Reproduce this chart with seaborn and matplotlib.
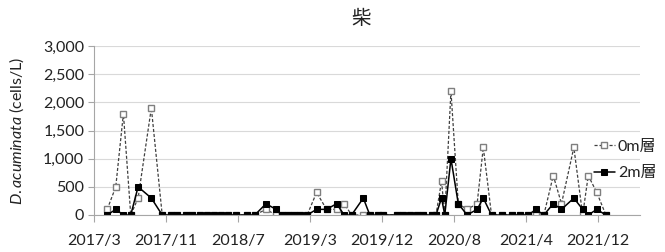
import pandas as pd
import matplotlib
matplotlib.use("Agg")
import matplotlib.pyplot as plt
import matplotlib.ticker as mticker
import seaborn as sns

# sampling dates and cell counts
dates = [
    "2017-04-15", "2017-05-14", "2017-06-09", "2017-07-04", "2017-07-29",
    "2017-09-12", "2017-10-19", "2017-11-19", "2017-12-09", "2018-01-07",
    "2018-01-29", "2018-02-24", "2018-03-20", "2018-04-13", "2018-05-07",
    "2018-05-31", "2018-06-27", "2018-08-05", "2018-08-30", "2018-10-07",
    "2018-11-10", "2018-11-29", "2018-12-20", "2019-01-10", "2019-01-30",
    "2019-02-24", "2019-03-28", "2019-05-01", "2019-06-04", "2019-06-30",
    "2019-07-25", "2019-09-03", "2019-09-25", "2019-10-24", "2019-11-10",
    "2019-12-25", "2020-01-17", "2020-02-08", "2020-03-02", "2020-03-25",
    "2020-04-22", "2020-05-07", "2020-05-26", "2020-06-06", "2020-06-27",
    "2020-07-22", "2020-08-21", "2020-09-24", "2020-10-15", "2020-11-12",
    "2020-12-16", "2021-01-19", "2021-02-16", "2021-03-17", "2021-04-12",
    "2021-05-09", "2021-06-10", "2021-07-08", "2021-08-19", "2021-09-18",
    "2021-10-07", "2021-11-05", "2021-12-06",
]
layer_0m = [
    100, 500, 1800, 0, 300,
    1900, 0, 0, 0, 0,
    0, 0, 0, 0, 0,
    0, 0, 0, 0, 100,
    0, 0, 0, 0, 0,
    0, 400, 100, 100, 200,
    0, 0, 0, 0, 0,
    0, 0, 0, 0, 0,
    0, 0, 600, 0, 2200,
    200, 100, 200, 1200, 0,
    0, 0, 0, 0, 0,
    0, 700, 200, 1200, 0,
    700, 400, 0,
]
layer_2m = [
    0, 100, 0, 0, 500,
    300, 0, 0, 0, 0,
    0, 0, 0, 0, 0,
    0, 0, 0, 0, 200,
    100, 0, 0, 0, 0,
    0, 100, 100, 200, 0,
    0, 300, 0, 0, 0,
    0, 0, 0, 0, 0,
    0, 0, 300, 0, 1000,
    200, 0, 100, 300, 0,
    0, 0, 0, 0, 100,
    0, 200, 100, 300, 100,
    0, 100, 0,
]
tick_labels = ["2017/3", "2017/11", "2018/7", "2019/3",
               "2019/12", "2020/8", "2021/4", "2021/12"]

sns.set_theme(style="white")
plt.rcParams["font.family"] = ["Lato", "Noto Sans CJK JP", "DejaVu Sans"]
plt.rcParams["mathtext.fontset"] = "custom"
plt.rcParams["mathtext.it"] = "Lato:italic"
plt.rcParams["mathtext.rm"] = "Lato"

txt = "#222222"

df = pd.DataFrame({
    "date": pd.to_datetime(dates),
    "0m": layer_0m,
    "2m": layer_2m,
})

fig = plt.figure(figsize=(6.65, 2.52), dpi=100)
ax = fig.add_axes([94 / 665, 1 - 215 / 252, 546 / 665, 169 / 252])

sns.lineplot(data=df, x="date", y="0m", ax=ax, color="#404040",
             linestyle=(0, (2.5, 1.5)), linewidth=0.9, marker="s",
             markersize=4.5, markerfacecolor="white",
             markeredgecolor="#7f7f7f", markeredgewidth=1.0, label="0m層")
sns.lineplot(data=df, x="date", y="2m", ax=ax, color="black",
             linewidth=1.1, marker="s", markersize=4.8,
             markerfacecolor="black", markeredgecolor="black", label="2m層")

# date axis in the style of excel: start 2017/3/1, major unit 245 days
start = pd.Timestamp("2017-03-01")
ax.set_xlim(start, start + pd.Timedelta(days=1857))
tick_pos = [start + pd.Timedelta(days=245 * i) for i in range(len(tick_labels))]
ax.set_xticks(tick_pos)
ax.set_xticklabels(tick_labels)

ax.set_ylim(0, 3000)
ax.set_yticks(range(0, 3001, 500))
ax.yaxis.set_major_formatter(mticker.FuncFormatter(lambda v, p: f"{v:,.0f}"))
ax.yaxis.grid(True, color="#d9d9d9", linewidth=0.8)
ax.set_axisbelow(True)

for s in ["top", "right"]:
    ax.spines[s].set_visible(False)
ax.spines["left"].set_color("#a6a6a6")
ax.spines["bottom"].set_color("#a6a6a6")
ax.spines["left"].set_linewidth(0.8)
ax.spines["bottom"].set_linewidth(0.8)
ax.tick_params(axis="both", labelsize=11.5, labelcolor=txt,
               color="#a6a6a6", width=0.8)
ax.tick_params(axis="y", left=True, length=4, pad=3)
ax.tick_params(axis="x", bottom=True, length=5, pad=9)

ax.set_xlabel("")
ax.set_ylabel(r"$\it{D.acuminata}$ (cells/L)", fontsize=11.5, color=txt)
ax.yaxis.set_label_coords(-0.125, 0.5)

fig.text(361 / 665, 1 - 18 / 252, "柴", ha="center", va="center",
         fontsize=14, color=txt)

ax.legend(loc="center left", bbox_to_anchor=(594 / 665, 1 - 160 / 252),
          bbox_transform=fig.transFigure, frameon=False, fontsize=11.5,
          handlelength=1.3, handletextpad=0.2, labelspacing=0.75,
          borderpad=0, borderaxespad=0, labelcolor=txt)

fig.savefig("out.png", dpi=100)
